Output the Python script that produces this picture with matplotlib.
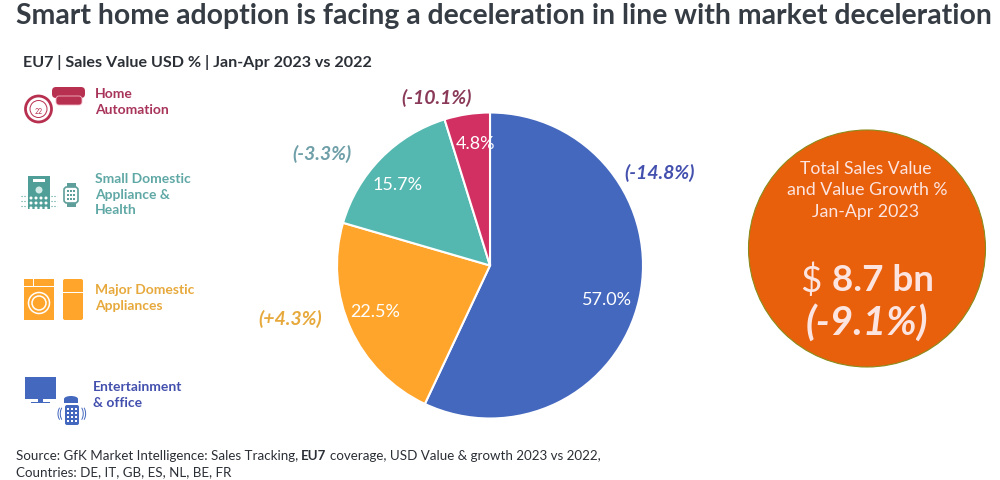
"""Smart home adoption pie chart with category legend and total sales badge."""

from __future__ import annotations

import matplotlib

matplotlib.use("Agg")

import matplotlib.pyplot as plt
from matplotlib.patches import Circle, Ellipse, FancyBboxPatch, Rectangle

categories = ["Entertainment\n& office", "Major Domestic\nAppliances",
              "Small Domestic\nAppliance &\nHealth", "Home\nAutomation"]
shares = [57.0, 22.5, 15.7, 4.8]
share_labels = ["57.0%", "22.5%", "15.7%", "4.8%"]
growth_labels = ["(-14.8%)", "(+4.3%)", "(-3.3%)", "(-10.1%)"]
colors = ["#4468BE", "#FFA52B", "#55B8B0", "#D22F62"]
text_colors = ["#4350AE", "#E7A93C", "#5FA8A5", "#A8345A"]
growth_colors = ["#4350AE", "#E7A93C", "#6F9FA8", "#8A3A58"]

FONT = "Lato"
ORANGE = "#E8600C"
plt.rcParams["font.family"] = [FONT, "DejaVu Sans"]


def rect(ax, x, y, w, h, color):
    ax.add_patch(Rectangle((x, y), w, h, color=color, lw=0))


def draw_home_icon(ax, color):
    ax.add_patch(Circle((38.5, 110), 13, fc="white", ec=color, lw=2))
    ax.add_patch(Circle((38.5, 110), 8.5, fc="white", ec=color, lw=0.7))
    ax.text(38.5, 111, "22", fontsize=5, color=color, ha="center", va="center")
    ax.add_patch(FancyBboxPatch((52, 88), 33, 11, boxstyle="round,pad=0,rounding_size=4", fc=color, lw=0))
    ax.add_patch(FancyBboxPatch((56, 97), 26, 9, boxstyle="round,pad=0,rounding_size=3", fc=color, ec="#F3B6C8", lw=0.6))


def draw_small_domestic_icon(ax, color):
    rect(ax, 28, 177, 22, 33, color)
    rect(ax, 33, 180, 12, 3, "white")
    ax.add_patch(Circle((39, 191), 3.5, color="#CFEAE6", lw=0))
    for row_y in (199, 204, 209):
        for dot_x in (31, 36, 41, 46):
            ax.add_patch(Circle((dot_x, row_y), 1.5, color="white", lw=0))
    for line_y in (197, 202, 207):
        ax.plot([21, 27], [line_y, line_y], color=color, lw=0.8, ls=":")
        ax.plot([51, 57], [line_y, line_y], color=color, lw=0.8, ls=":")
    ax.add_patch(FancyBboxPatch((64, 188), 14, 16, boxstyle="round,pad=0,rounding_size=3", fc="white", ec="#5F9F9B", lw=1.2))
    rect(ax, 66.5, 184, 9, 4, "#5F9F9B")
    rect(ax, 66.5, 204, 9, 4, "#5F9F9B")
    for row_y in (192, 196, 200):
        for dot_x in (68, 71, 74):
            rect(ax, dot_x - 0.8, row_y - 0.8, 1.6, 1.6, "#5F9F9B")


def draw_major_domestic_icon(ax, color):
    rect(ax, 24, 280, 30, 41, color)
    rect(ax, 24, 287, 30, 1.2, "white")
    rect(ax, 33, 280, 1.2, 7, "white")
    ax.add_patch(Circle((39, 304), 10.5, fc="none", ec="white", lw=1.1))
    ax.add_patch(Circle((39, 304), 7, fc="none", ec="white", lw=1.1))
    ax.add_patch(FancyBboxPatch((63, 280), 20, 41, boxstyle="round,pad=0,rounding_size=2", fc=color, lw=0))
    rect(ax, 63, 293, 20, 1, "white")


def draw_entertainment_icon(ax, color):
    rect(ax, 25, 378, 31, 22, color)
    rect(ax, 38, 400, 5, 3, color)
    rect(ax, 31, 403, 19, 1.3, color)
    ax.add_patch(Ellipse((71, 400), 14, 6, color=color, lw=0))
    rect(ax, 64, 400, 14, 4, color)
    ax.add_patch(FancyBboxPatch((65, 406), 14, 20, boxstyle="round,pad=0,rounding_size=2", fc=color, lw=0))
    for row_y in (410, 414, 418, 422):
        for dot_x in (68, 72, 76):
            rect(ax, dot_x - 0.8, row_y - 0.8, 1.6, 1.6, "white")
    ax.text(60, 414, "((", fontsize=9, color=color, ha="center", va="center")
    ax.text(84, 414, "))", fontsize=9, color=color, ha="center", va="center")


def main() -> None:
    fig = plt.figure(figsize=(10, 4.81), dpi=100, facecolor="white")

    # pixel overlay for text, icons and the badge
    overlay = fig.add_axes([0, 0, 1, 1], zorder=3)
    overlay.set_xlim(0, 1000)
    overlay.set_ylim(481, 0)
    overlay.axis("off")
    overlay.patch.set_alpha(0)

    pie_ax = fig.add_axes([337 / 1000, (481 - 266.5 - 153) / 481, 306 / 1000, 306 / 481], zorder=2)
    pie_ax.pie(
        shares,
        colors=colors,
        startangle=90,
        counterclock=False,
        radius=1.0,
        wedgeprops={"edgecolor": "white", "linewidth": 1.5},
    )
    pie_ax.set_xlim(-1, 1)
    pie_ax.set_ylim(-1, 1)

    title = overlay.text(16, 16, "Smart home adoption is facing a deceleration in line with market deceleration",
                         fontsize=20, fontweight="bold", color="#363C44", ha="left", va="center")
    # fit the title to the width it has in the reference
    fig.canvas.draw()
    title.set_fontsize(20 * 977 / title.get_window_extent().width)
    overlay.text(23, 63, "EU7 | Sales Value USD % | Jan-Apr 2023 vs 2022",
                 fontsize=11.6, fontweight="bold", color="#2B2F36", ha="left", va="center")

    # share labels inside the slices
    share_xy = [(607, 300), (375, 312), (398, 185), (475, 144)]
    for label, (x, y) in zip(share_labels, share_xy):
        overlay.text(x, y, label, fontsize=13, color="white", ha="center", va="center")

    growth_xy = [(660, 173), (290, 319), (322, 154), (437, 98)]
    for label, color, (x, y) in zip(growth_labels, growth_colors, growth_xy):
        overlay.text(x, y, label, fontsize=14, fontweight="bold", style="italic",
                     color=color, ha="center", va="center")

    # legend text next to the icons
    legend_xy = [(93, 395), (95, 298), (95, 195), (95, 102)]
    for label, color, (x, y) in zip(categories, text_colors, legend_xy):
        overlay.text(x, y, label, fontsize=10, fontweight="bold", color=color,
                     ha="left", va="center", linespacing=1.35)

    draw_home_icon(overlay, "#B8304F")
    draw_small_domestic_icon(overlay, "#4F9F98")
    draw_major_domestic_icon(overlay, "#FFA52B")
    draw_entertainment_icon(overlay, "#4468BE")

    # total sales badge
    overlay.add_patch(Ellipse((867, 249.5), 237, 237, fc=ORANGE, ec="#8C8A1A", lw=0.8))
    overlay.text(866, 169, "Total Sales Value", fontsize=12.6, color="#FCE4E0", ha="center", va="center")
    overlay.text(867, 190, "and Value Growth %", fontsize=12.8, color="#FCE4E0", ha="center", va="center")
    overlay.text(866, 212, "Jan-Apr 2023", fontsize=12.8, color="#FCE4E0", ha="center", va="center")
    overlay.text(811, 281, "$", fontsize=26.5, color="#FCE4E0", ha="center", va="center")
    overlay.text(883, 281, "8.7 bn", fontsize=26.5, fontweight="bold", color="#FCE4E0", ha="center", va="center")
    overlay.text(867, 323, "(-9.1%)", fontsize=29, fontweight="bold", style="italic",
                 color="#FCE4E0", ha="center", va="center")

    # source footnote, bold EU7 placed from the width of the text before it
    y_line1 = 456
    first = overlay.text(16, y_line1, "Source: GfK Market Intelligence: Sales Tracking,",
                         fontsize=9.6, color="#2B2F36", ha="left", va="center")
    fig.canvas.draw()
    x_bold = first.get_window_extent().x1 + 3
    bold = overlay.text(x_bold, y_line1, "EU7", fontsize=9.6, fontweight="bold",
                        color="#2B2F36", ha="left", va="center")
    x_rest = bold.get_window_extent().x1 + 3
    overlay.text(x_rest, y_line1, "coverage, USD Value & growth 2023 vs 2022,",
                 fontsize=9.6, color="#2B2F36", ha="left", va="center")
    overlay.text(16, 472, "Countries: DE, IT, GB, ES, NL, BE, FR",
                 fontsize=9.6, color="#2B2F36", ha="left", va="center")

    fig.savefig("out.png", dpi=100, facecolor="white")
    plt.close(fig)


if __name__ == "__main__":
    main()
